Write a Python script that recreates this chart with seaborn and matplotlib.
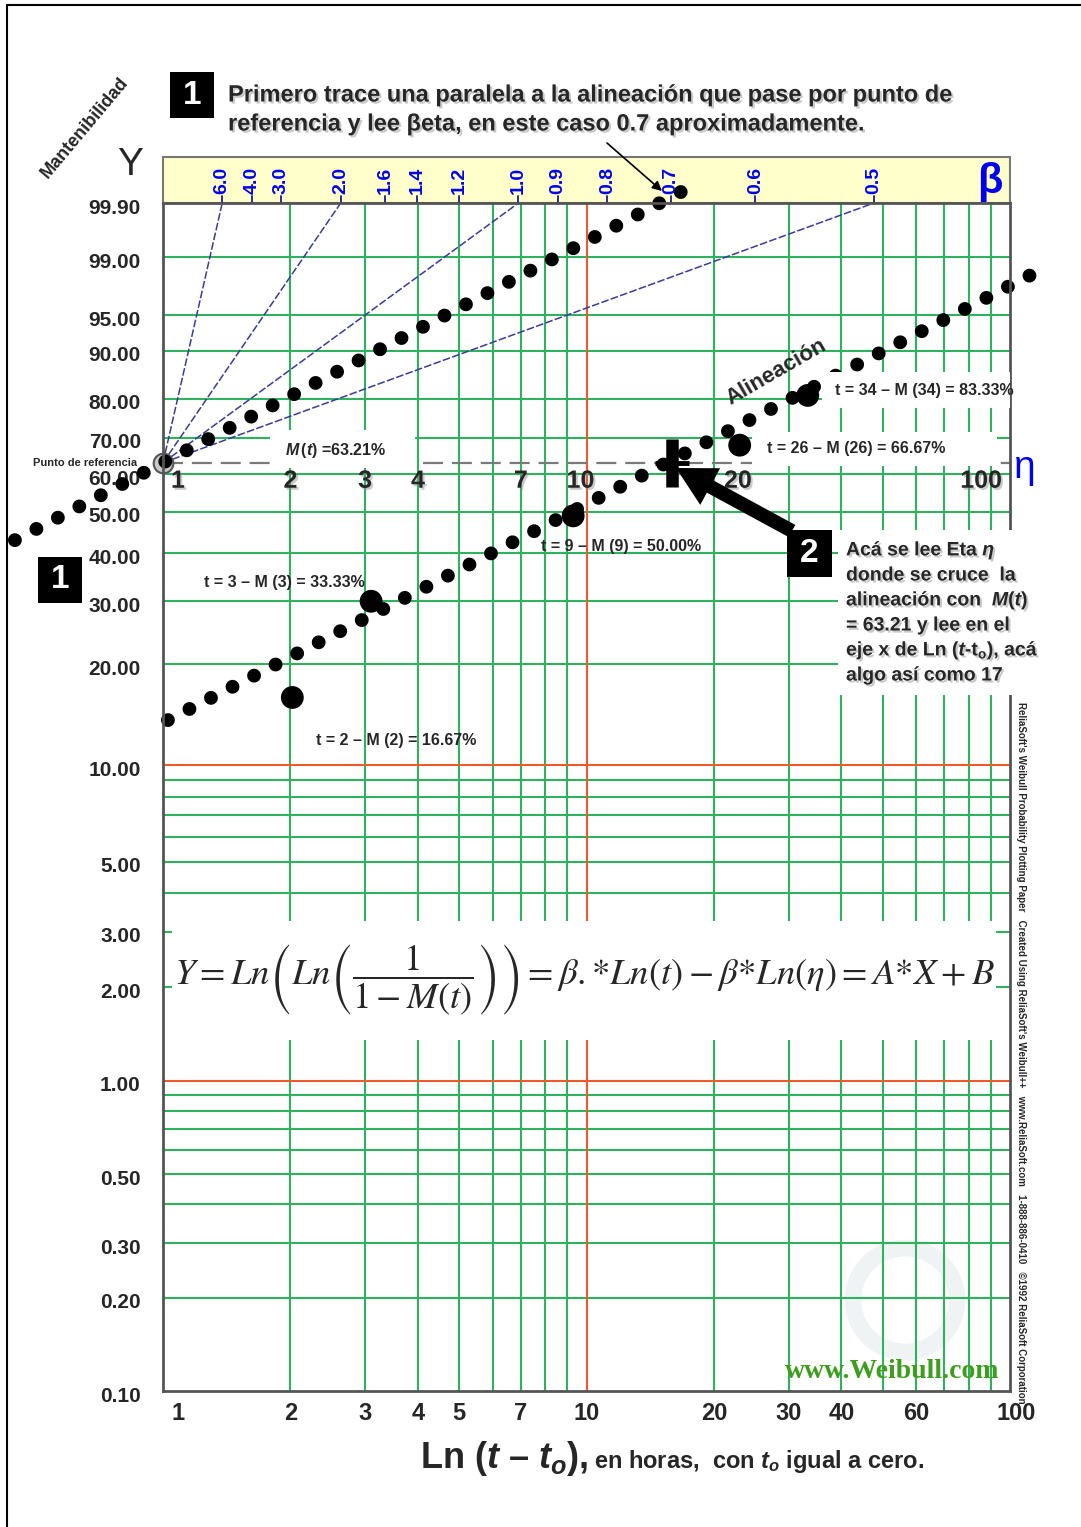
import numpy as np
import pandas as pd
import matplotlib
matplotlib.use("Agg")
import matplotlib.pyplot as plt
import matplotlib.transforms as mtransforms
import matplotlib.patheffects as pe
from matplotlib.patches import Rectangle, FancyArrowPatch, Circle
from matplotlib.lines import Line2D
from matplotlib.ticker import NullLocator
from matplotlib import font_manager
import seaborn as sns

# ------------------------------------------------------------------ data
# observed points (hours, cumulative maintainability %)
obs_t = [2.02, 3.1, 9.3, 23.0, 33.3]
obs_M = [16.0, 30.0, 49.0, 68.0, 80.8]
obs_text = ["t = 2 – M (2) = 16.67%", "t = 3 – M (3) = 33.33%",
            "t = 9 – M (9) = 50.00%", "t = 26 – M (26) = 66.67%",
            "t = 34 – M (34) = 83.33%"]

# "Alineación" (fitted line) end points
align_t = [1.027, 112.0]
align_M = [13.7, 98.25]
# parallel line through the reference point
parallel_t = [0.447, 16.9]
parallel_M = [43.0, 99.948]

ref_t = [1.0]
ref_M = [63.21]
eta_t = [15.9]
eta_M = [63.21]

beta_scale = [6.0, 4.0, 3.0, 2.0, 1.6, 1.4, 1.2, 1.0, 0.9, 0.8, 0.7, 0.6, 0.5]
beta_rays = [6.0, 2.0, 1.0, 0.5]

y_tick_pct = [99.9, 99, 95, 90, 80, 70, 60, 50, 40, 30, 20, 10, 5, 3, 2, 1,
              0.5, 0.3, 0.2, 0.1]
y_grid_pct = [0.2, 0.3, 0.4, 0.5, 0.6, 0.7, 0.8, 0.9,
              2, 3, 4, 5, 6, 7, 8, 9,
              20, 30, 40, 50, 60, 70, 80, 90, 95, 99]
y_orange_pct = [1, 10]
x_tick_bottom = [1, 2, 3, 4, 5, 7, 10, 20, 30, 40, 60, 100]
x_tick_mid = [1, 2, 3, 4, 7, 10, 20, 100]
x_grid = [2, 3, 4, 5, 6, 7, 8, 9, 20, 30, 40, 50, 60, 70, 80, 90]
x_orange = [10]

box2_lines = ["Acá se lee Eta $\\eta$", "donde se cruce  la",
              "alineación con  $M(t)$", "= 63.21 y lee en el",
              "eje x de Ln ($t$-t$_{\\mathrm{o}}$), acá", "algo así como 17"]
top_lines = ["Primero trace una paralela a la alineación que pase por punto de",
             "referencia y lee βeta, en este caso 0.7 aproximadamente."]

# ------------------------------------------------------------------ style
W, H = 1081, 1527
sns.set_theme(style="white")
names = {f.name for f in font_manager.fontManager.ttflist}
SANS = "Liberation Sans"
NARROW = "Liberation Sans Narrow" if "Liberation Sans Narrow" in names else SANS
plt.rcParams["font.family"] = [SANS, "DejaVu Sans"]
plt.rcParams.update({
    "mathtext.fontset": "custom",
    "mathtext.rm": "Liberation Sans:bold",
    "mathtext.it": "Liberation Sans:italic:bold",
    "mathtext.bf": "Liberation Sans:bold",
    "mathtext.sf": "Liberation Sans:bold",
})
GREEN = "#2fb25e"
ORANGE = "#ee5a2a"
BLUE = "#0000ee"
RAY = "#3a3a9a"
SH = [pe.withSimplePatchShadow(offset=(1.5, -1.5), shadow_rgbFace="#888888", alpha=0.45)]


def wy(p):
    p = np.asarray(p, dtype=float) / 100.0
    return np.log(-np.log(1.0 - p))


fig = plt.figure(figsize=(W / 100, H / 100), dpi=100)
fig.patch.set_facecolor("white")
X0, X1, YT, YB = 163, 1010, 203, 1391
ax = fig.add_axes([X0 / W, 1 - YB / H, (X1 - X0) / W, (YB - YT) / H])
ax.set_xscale("log")
ax.set_facecolor("white")
P = mtransforms.Affine2D().scale(1, -1).translate(0, H)   # reference pixels -> display
BX = mtransforms.blended_transform_factory(ax.transData, P)


def txt(x, y, s, **kw):
    kw.setdefault("zorder", 6)
    return ax.text(x, y, s, transform=P, **kw)


def wbox(x0, y0, x1, y1, color="white", z=3):
    ax.add_patch(Rectangle((x0, y0), x1 - x0, y1 - y0, transform=P, facecolor=color,
                           edgecolor="none", clip_on=False, zorder=z))


# ------------------------------------------------------------------ grid
for v in x_grid:
    ax.axvline(v, color=GREEN, lw=1.5, zorder=1)
for v in x_orange:
    ax.axvline(v, color=ORANGE, lw=1.5, zorder=1.1)
for v in y_grid_pct:
    ax.axhline(wy(v), color=GREEN, lw=1.5, zorder=1)
for v in y_orange_pct:
    ax.axhline(wy(v), color=ORANGE, lw=1.5, zorder=1.1)
ax.axhline(wy(ref_M[0]), color="#7a7a7a", lw=1.6, dashes=(9, 4), zorder=1.5)

# watermark
ax.add_patch(Circle((905, 1300), 52, transform=P, fill=False, ec="#f0f3f3", lw=12,
                    zorder=0.9, clip_on=False))

# beta band
ax.add_patch(Rectangle((X0, 157), X1 - X0, 46, transform=P, facecolor="#ffffcc",
                       edgecolor="#777777", lw=1.5, clip_on=False, zorder=0.5))
Ytop = float(wy(99.9))
Yref = float(wy(ref_M[0]))
for b in beta_scale:
    tb = ref_t[0] * np.exp((Ytop - Yref) / b)
    ax.plot([tb, tb], [203, 196], transform=BX, color="#1a1a8a", lw=1.3, clip_on=False, zorder=2)
    ax.text(tb, 180, f"{b:.1f}", transform=BX, rotation=90, ha="center", va="center",
            color=BLUE, fontsize=14, fontweight="bold", zorder=6)
for b in beta_rays:
    tb = ref_t[0] * np.exp((Ytop - Yref) / b)
    ax.plot([ref_t[0], tb], [Yref, Ytop], color=RAY, lw=1.1, dashes=(5, 1.5), zorder=1.8)

# ------------------------------------------------------------------ dotted lines
DOT = dict(color="black", linewidth=10.0, linestyle=(0, (0.001, 1.744)),
           dash_capstyle="round", clip_on=False, zorder=2)
sns.lineplot(x=align_t, y=wy(align_M), ax=ax, **DOT)
sns.lineplot(x=parallel_t, y=wy(parallel_M), ax=ax, **DOT)

# reference point
ax.scatter(ref_t, wy(ref_M), s=200, facecolor="#c9c9c9", edgecolor="#555555",
           lw=1.5, zorder=1.95, clip_on=False)

# white label boxes
wbox(270, 430, 415, 468)
wbox(752, 432, 997, 466)
wbox(822, 372, 1010, 408)
wbox(838, 530, 1045, 695)
wbox(172, 921, 996, 1040)

# observed points
sns.scatterplot(x=obs_t, y=wy(obs_M), ax=ax, s=270, color="black", edgecolor="none",
                zorder=4, clip_on=False, legend=False)

# eta cross
ax.plot(eta_t, wy(eta_M), marker="|", ms=34, mew=9, color="black", zorder=4.5, ls="none")
ax.plot(eta_t, wy(eta_M), marker="_", ms=24, mew=3.5, color="black", zorder=4.5, ls="none")

# ------------------------------------------------------------------ axes
ax.set_xlim(1, 100)
ax.set_ylim(wy(0.1), wy(99.9))
ax.set_yticks(wy(y_tick_pct))
ax.set_yticklabels([f"{v:.2f}" for v in y_tick_pct], fontsize=15, fontweight="bold")
ax.set_xticks(x_tick_bottom)
ax.set_xticklabels([str(v) for v in x_tick_bottom], fontsize=17, fontweight="bold",
                   family=NARROW)
ax.xaxis.set_minor_locator(NullLocator())
ax.yaxis.set_minor_locator(NullLocator())
ax.tick_params(axis="y", length=0, pad=16)
ax.tick_params(axis="x", length=0, pad=8)
ax.grid(False)
for s in ax.spines.values():
    s.set_color("#555555")
    s.set_linewidth(2)
    s.set_visible(True)
first = ax.get_xticklabels()[0]
first.set_transform(first.get_transform() + mtransforms.ScaledTranslation(0.15, 0, fig.dpi_scale_trans))
last = ax.get_xticklabels()[-1]
last.set_transform(last.get_transform() + mtransforms.ScaledTranslation(0.06, 0, fig.dpi_scale_trans))
for lab in ax.get_yticklabels():
    lab.set_transform(lab.get_transform() + mtransforms.ScaledTranslation(0, -0.03, fig.dpi_scale_trans))

# mid-plot x labels under the 63.21 % line
mid_align = {1: ("left", 8), 20: ("left", 10), 100: ("right", -8), 10: ("center", -6)}
for t in x_tick_mid:
    ha, dx = mid_align.get(t, ("center", 0))
    ax.annotate(str(t), xy=(t, Yref), xytext=(dx, -18), textcoords="offset pixels",
                ha=ha, va="center", fontsize=18, fontweight="bold", zorder=6,
                path_effects=SH)

# ------------------------------------------------------------------ annotations
txt(228, 95, top_lines[0], fontsize=17, fontweight="bold", va="center", path_effects=SH)
txt(228, 124, top_lines[1], fontsize=17, fontweight="bold", va="center", path_effects=SH)
for (x0, y0) in [(170, 72), (38, 557)]:
    wbox(x0, y0, x0 + 44, y0 + 46, color="black", z=5)
    txt(x0 + 22, y0 + 23, "1", color="white", fontsize=24, fontweight="bold",
        ha="center", va="center")
wbox(787, 530, 832, 577, color="black", z=5)
txt(809.5, 553.5, "2", color="white", fontsize=24, fontweight="bold", ha="center", va="center")

txt(85, 128, "Mantenibilidad", rotation=50, fontsize=13, fontweight="bold",
    ha="center", va="center", rotation_mode="anchor")
txt(130, 165, "Y", fontsize=28, ha="center", va="center")
txt(137, 463, "Punto de referencia", fontsize=8, fontweight="bold", ha="right", va="center")
txt(990, 182, "β", fontsize=30, fontweight="bold", color=BLUE, ha="center", va="center")
txt(1025, 468, "η", fontsize=28, color=BLUE, ha="center", va="center")

txt(285, 450, "$M\\,(t)$ =63.21%", fontsize=11.5, fontweight="bold", va="center")
txt(396, 740, obs_text[0], fontsize=11.5, fontweight="bold", ha="center", va="center")
txt(284, 583, obs_text[1], fontsize=11.5, fontweight="bold", ha="center", va="center")
txt(621, 547, obs_text[2], fontsize=11.5, fontweight="bold", ha="center", va="center")
txt(767, 449, obs_text[3], fontsize=11.5, fontweight="bold", va="center")
txt(835, 390, obs_text[4], fontsize=11.5, fontweight="bold", va="center")
txt(776, 372, "Alineación", rotation=30, fontsize=16, fontweight="bold",
    ha="center", va="center", rotation_mode="anchor")

for i, line in enumerate(box2_lines):
    txt(846, 551 + 25 * i, line, fontsize=14, fontweight="bold", va="center", path_effects=SH)

formula = (r"$Y = Ln\left(Ln\left(\dfrac{1}{1-M(t)}\right)\right) = "
           r"\beta.{*}Ln(t) - \beta{*}Ln(\eta) = A{*}X + B$")
txt(584, 980, formula, fontsize=26.5, math_fontfamily="stix", ha="center", va="center")

txt(420, 1468, "Ln ($t$ – $t_o$),", fontsize=26, fontweight="bold", va="baseline")
txt(594, 1468, "en horas,  con $t_o$ igual a cero.", fontsize=17, fontweight="bold",
    va="baseline")

txt(892, 1372, "www.Weibull.com", family="Liberation Serif", fontsize=20,
    fontweight="bold", color="#3c9e1c", ha="center", va="center")
txt(1021, 702, "ReliaSoft's Weibull Probability Plotting Paper   Created Using ReliaSoft's "
    "Weibull++   www.ReliaSoft.com   1-888-886-0410   ©1992 ReliaSoft Corporation",
    rotation=-90, ha="left", va="center", rotation_mode="anchor", fontsize=7,
    fontweight="bold", family=NARROW)

# arrows
ax.add_patch(FancyArrowPatch((607, 143), (662, 191), transform=P, arrowstyle="-|>",
                             mutation_scale=14, lw=1.2, color="black", shrinkA=0,
                             shrinkB=0, clip_on=False, zorder=6))
ax.add_patch(FancyArrowPatch((792, 531), (676, 468), transform=P,
                             arrowstyle="simple,head_length=0.7,head_width=0.75,tail_width=0.25",
                             mutation_scale=40, lw=0, color="black", shrinkA=0, shrinkB=0,
                             clip_on=False, zorder=6))

# page frame
fig.add_artist(Line2D([7, 7], [5, H], transform=P, color="black", lw=1.5))
fig.add_artist(Line2D([7, W], [5, 5], transform=P, color="black", lw=1.5))

fig.savefig("out.png", dpi=100, facecolor="white")
